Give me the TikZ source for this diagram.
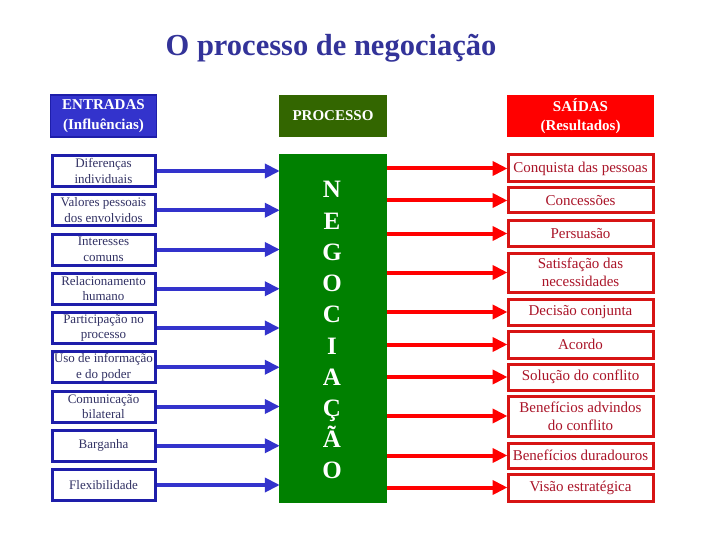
\documentclass[tikz,border=0pt]{standalone}
\usepackage{fontspec}
\setmainfont{Liberation Serif}
\usetikzlibrary{arrows.meta}
\definecolor{titleblue}{RGB}{51,51,153}
\definecolor{inblue}{RGB}{51,51,204}
\definecolor{inborder}{RGB}{30,30,170}
\definecolor{intext}{RGB}{50,50,100}
\definecolor{procgreen}{RGB}{51,102,0}
\definecolor{neggreen}{RGB}{0,128,0}
\definecolor{outred}{RGB}{255,0,0}
\definecolor{outborder}{RGB}{215,20,20}
\definecolor{outtext}{RGB}{170,20,40}
\tikzset{
  header/.style={minimum height=42pt, text=white, font=\fontsize{15}{19.5}\selectfont\bfseries, align=center, inner sep=0pt},
  inbox/.style={draw=inborder, line width=3pt, fill=white, minimum width=103pt, minimum height=31pt, text=intext, font=\fontsize{13}{15.5}\selectfont, align=center, inner sep=0pt},
  outbox/.style={draw=outborder, line width=3pt, fill=white, minimum width=145pt, text=outtext, font=\fontsize{15}{18}\selectfont, align=center, inner sep=0pt},
  inarrow/.style={draw=inblue, line width=4pt, -{Triangle[length=15pt,width=14pt]}, shorten >=-1pt},
  outarrow/.style={draw=outred, line width=4pt, -{Triangle[length=15pt,width=14pt]}, shorten >=-1pt},
  letter/.style={text=white, font=\fontsize{25}{25}\selectfont\bfseries, anchor=base, inner sep=0pt}
}
\begin{document}
\begin{tikzpicture}[x=1pt,y=-1pt]
\useasboundingbox (0,0) rectangle (720,540);
\node[text=titleblue, font=\fontsize{30.5}{32}\selectfont\bfseries] (title) at (331,48) {O processo de negociação};
% headers
\node[header, fill=inblue, draw=inborder, line width=1.5pt, minimum width=106pt] (hin) at (103.5,116) {ENTRADAS\\(Influências)};
\node[header, fill=procgreen, minimum width=108pt] (hproc) at (333,116) {PROCESSO};
\node[header, fill=outred, minimum width=147pt] (hout) at (580.5,116) {SAÍDAS\\(Resultados)};
% negotiation box
\node[fill=neggreen, minimum width=108pt, minimum height=349pt, inner sep=0pt] (neg) at (333,328.5) {};
\foreach \l [count=\i from 0] in {N,E,G,O,C,I,A,Ç,Ã,O}
  \node[letter] (let\i) at (332,{198+31.2*\i}) {\l};
% inputs
\node[inbox] (l1) at (103.5,171) {Diferenças\\individuais};
\node[inbox] (l2) at (103.5,210.25) {Valores pessoais\\dos envolvidos};
\node[inbox] (l3) at (103.5,249.5) {Interesses\\comuns};
\node[inbox] (l4) at (103.5,288.75) {Relacionamento\\humano};
\node[inbox] (l5) at (103.5,328) {Participação no\\processo};
\node[inbox] (l6) at (103.5,367.25) {Uso de informação\\e do poder};
\node[inbox] (l7) at (103.5,406.5) {Comunicação\\bilateral};
\node[inbox] (l8) at (103.5,445.75) {Barganha};
\node[inbox] (l9) at (103.5,485) {Flexibilidade};
\foreach \i in {1,...,9}
  \draw[inarrow] (l\i.east) -- (neg.west |- l\i.east);
% outputs
\node[outbox, minimum height=27pt] (r1) at (580.5,168.5) {Conquista das pessoas};
\node[outbox, minimum height=25pt] (r2) at (580.5,200.5) {Concessões};
\node[outbox, minimum height=25pt] (r3) at (580.5,233.5) {Persuasão};
\node[outbox, minimum height=39pt] (r4) at (580.5,272.5) {Satisfação das\\necessidades};
\node[outbox, minimum height=26pt] (r5) at (580.5,312) {Decisão conjunta};
\node[outbox, minimum height=27pt] (r6) at (580.5,344.5) {Acordo};
\node[outbox, minimum height=26pt] (r7) at (580.5,377) {Solução do conflito};
\node[outbox, minimum height=40pt] (r8) at (580.5,416) {Benefícios advindos\\do conflito};
\node[outbox, minimum height=25pt] (r9) at (580.5,455.5) {Benefícios duradouros};
\node[outbox, minimum height=27pt] (r10) at (580.5,487.5) {Visão estratégica};
\foreach \i in {1,...,10}
  \draw[outarrow] (neg.east |- r\i.west) -- (r\i.west);
\end{tikzpicture}
\end{document}
